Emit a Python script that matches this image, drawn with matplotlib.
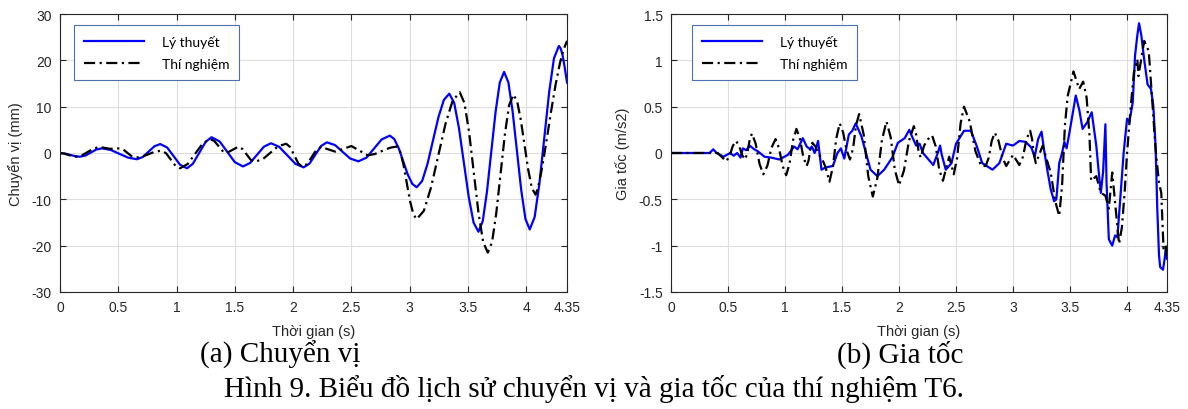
import matplotlib
matplotlib.use("Agg")
import matplotlib.pyplot as plt
from matplotlib.ticker import FormatStrFormatter

# ---- chuyen vi (mm) ----
t_disp_lt = [0.00, 0.04, 0.085, 0.13, 0.17, 0.22, 0.265, 0.31, 0.36, 0.435, 0.51, 0.585, 0.66, 0.71, 0.76,
             0.81, 0.86, 0.92, 0.975, 1.03, 1.09, 1.14, 1.195, 1.25, 1.30, 1.37, 1.435, 1.50, 1.57, 1.63,
             1.69, 1.75, 1.81, 1.88, 1.95, 2.02, 2.09, 2.14, 2.19, 2.24, 2.29, 2.36, 2.425, 2.49, 2.56,
             2.63, 2.695, 2.76, 2.83, 2.868, 2.907, 2.945, 2.983, 3.022, 3.06, 3.107, 3.153, 3.20, 3.247,
             3.293, 3.34, 3.382, 3.423, 3.465, 3.507, 3.548, 3.59, 3.627, 3.663, 3.70, 3.737, 3.773, 3.81,
             3.847, 3.883, 3.92, 3.957, 3.993, 4.03, 4.072, 4.113, 4.155, 4.197, 4.238, 4.28, 4.295, 4.31,
             4.33, 4.35]
disp_lt = [0.0, -0.12, -0.40, -0.68, -0.80, -0.54, 0.10, 0.74, 1.00, 0.66, -0.18, -1.01, -1.35, -0.87, 0.29,
           1.45, 1.93, 1.17, -0.69, -2.54, -3.30, -2.32, 0.05, 2.42, 3.40, 2.48, 0.25, -1.98, -2.90, -2.17,
           -0.40, 1.37, 2.10, 1.34, -0.50, -2.34, -3.10, -2.31, -0.40, 1.51, 2.30, 1.70, 0.25, -1.20, -1.80,
           -0.99, 0.98, 2.94, 3.75, 3.00, 0.96, -1.83, -4.61, -6.65, -7.40, -6.05, -2.35, 2.70, 7.75,
           11.45, 12.80, 10.80, 5.35, -2.10, -9.55, -15.00, -17.00, -14.69, -8.37, 0.25, 8.88, 15.19, 17.50,
           15.22, 9.00, 0.50, -8.00, -14.22, -16.50, -13.85, -6.60, 3.30, 13.20, 20.45, 23.10, 22.60, 21.30,
           18.50, 15.20]

t_disp_tn = [0.00, 0.035, 0.07, 0.105, 0.14, 0.19, 0.24, 0.29, 0.34, 0.385, 0.43, 0.47, 0.51, 0.545, 0.58,
             0.615, 0.65, 0.705, 0.76, 0.815, 0.87, 0.91, 0.95, 0.99, 1.03, 1.095, 1.16, 1.225, 1.29, 1.325,
             1.36, 1.395, 1.43, 1.48, 1.53, 1.565, 1.60, 1.635, 1.67, 1.74, 1.805, 1.87, 1.94, 1.975, 2.01,
             2.045, 2.08, 2.12, 2.16, 2.20, 2.24, 2.30, 2.36, 2.43, 2.50, 2.57, 2.64, 2.70, 2.765, 2.83,
             2.89, 2.918, 2.947, 2.975, 3.003, 3.032, 3.06, 3.122, 3.183, 3.245, 3.307, 3.368, 3.43, 3.47,
             3.51, 3.55, 3.59, 3.63, 3.67, 3.707, 3.743, 3.78, 3.817, 3.853, 3.89, 3.922, 3.953, 3.985,
             4.017, 4.048, 4.08, 4.10, 4.13, 4.17, 4.21, 4.25, 4.29, 4.32, 4.35]
disp_tn = [0.0, -0.12, -0.40, -0.68, -0.80, -0.49, 0.25, 0.99, 1.30, 1.10, 0.90, 0.95, 1.00, 0.71, 0.00,
           -0.71, -1.00, -0.78, -0.25, 0.28, 0.50, -0.05, -1.40, -2.75, -3.30, -2.38, -0.15, 2.08, 3.00, 2.56,
           1.50, 0.44, 0.00, 0.68, 1.35, 0.88, -0.28, -1.43, -1.90, -1.33, 0.05, 1.43, 2.00, 1.27, -0.50,
           -2.27, -3.00, -2.37, -0.85, 0.67, 1.30, 0.80, 0.30, 0.90, 1.50, 0.50, -0.50, -0.22, 0.45, 1.12,
           1.40, 0.35, -2.53, -6.45, -10.38, -13.25, -14.30, -12.46, -7.45, -0.60, 6.25, 11.26, 13.10, 10.78,
           4.45, -4.20, -12.85, -19.18, -21.50, -19.22, -12.97, -4.45, 4.08, 10.32, 12.60, 11.15, 7.20, 1.80,
           -3.60, -7.55, -9.00, -7.60, -4.00, 2.00, 8.50, 14.50, 19.50, 22.30, 24.20]

# ---- gia toc (m/s2) ----
t_acc_lt = [0.00, 0.34, 0.37, 0.40, 0.46, 0.52, 0.55, 0.58, 0.61, 0.63, 0.66, 0.69, 0.73, 0.76, 0.82,
            0.88, 0.95, 1.025, 1.08, 1.11, 1.156, 1.19, 1.22, 1.235, 1.26, 1.29, 1.32, 1.35, 1.38, 1.42,
            1.46, 1.49, 1.52, 1.56, 1.59, 1.62, 1.67, 1.71, 1.75, 1.81, 1.87, 1.94, 1.99, 2.05, 2.09,
            2.11, 2.15, 2.18, 2.21, 2.30, 2.34, 2.36, 2.375, 2.41, 2.46, 2.50, 2.545, 2.57, 2.63, 2.68,
            2.73, 2.82, 2.88, 2.94, 3.00, 3.055, 3.11, 3.16, 3.19, 3.22, 3.25, 3.27, 3.30, 3.33, 3.36,
            3.38, 3.405, 3.43, 3.45, 3.47, 3.51, 3.55, 3.58, 3.61, 3.65, 3.69, 3.73, 3.755, 3.77, 3.79,
            3.81, 3.82, 3.84, 3.87, 3.895, 3.915, 3.94, 3.97, 4.00, 4.02, 4.05, 4.07, 4.09, 4.105, 4.125,
            4.15, 4.18, 4.21, 4.23, 4.25, 4.265, 4.28, 4.29, 4.315, 4.33, 4.34, 4.35]
acc_lt = [0.0, 0.0, 0.04, 0.0, -0.04, 0.0, -0.03, 0.0, -0.05, 0.05, 0.03, 0.08, 0.04, 0.02, -0.04,
          -0.05, -0.07, -0.02, 0.07, 0.04, 0.16, 0.07, 0.04, 0.07, 0.0, 0.13, -0.18, -0.16, -0.15, -0.14,
          0.0, 0.05, -0.06, 0.20, 0.24, 0.32, 0.18, 0.0, -0.18, -0.25, -0.18, -0.05, 0.11, 0.16, 0.25,
          0.19, 0.08, 0.10, 0.0, -0.13, 0.0, 0.08, -0.02, -0.18, -0.11, 0.10, 0.19, 0.24, 0.24, 0.08,
          -0.11, -0.18, -0.11, 0.10, 0.08, 0.13, 0.12, 0.06, -0.04, 0.15, 0.23, 0.05, -0.18, -0.39, -0.52,
          -0.50, -0.11, 0.0, 0.12, 0.05, 0.33, 0.62, 0.47, 0.26, 0.33, 0.44, 0.08, -0.25, -0.43, -0.20,
          0.31, -0.32, -0.93, -1.00, -0.89, -0.91, -0.50, 0.0, 0.37, 0.33, 0.55, 1.05, 1.27, 1.40, 1.27,
          1.01, 0.74, 0.69, 0.51, 0.08, -0.60, -1.10, -1.23, -1.26, -1.14, -1.02, -1.14]

t_acc_tn = [0.00, 0.35, 0.41, 0.485, 0.513, 0.542, 0.57, 0.597, 0.623, 0.65, 0.67, 0.69, 0.71, 0.743, 0.777,
            0.81, 0.846, 0.881, 0.917, 0.948, 0.979, 1.01, 1.04, 1.07, 1.10, 1.13, 1.16, 1.19, 1.207, 1.223,
            1.24, 1.267, 1.293, 1.32, 1.355, 1.39, 1.42, 1.45, 1.48, 1.51, 1.54, 1.57, 1.597, 1.623, 1.65,
            1.69, 1.73, 1.77, 1.81, 1.85, 1.89, 1.927, 1.963, 2.00, 2.043, 2.087, 2.13, 2.15, 2.17, 2.19,
            2.22, 2.255, 2.29, 2.322, 2.353, 2.385, 2.44, 2.48, 2.51, 2.54, 2.57, 2.62, 2.67, 2.72, 2.76,
            2.787, 2.813, 2.84, 2.873, 2.907, 2.94, 3.00, 3.055, 3.087, 3.118, 3.15, 3.167, 3.183, 3.20, 3.26,
            3.29, 3.33, 3.37, 3.405, 3.43, 3.455, 3.48, 3.53, 3.58, 3.615, 3.645, 3.67, 3.685, 3.73, 3.77,
            3.81, 3.84, 3.87, 3.90, 3.93, 3.955, 3.98, 4.00, 4.03, 4.06, 4.09, 4.10, 4.15, 4.19, 4.22,
            4.25, 4.28, 4.30, 4.32, 4.34, 4.35]
acc_tn = [0.00, 0.00, 0.00, -0.09, -0.035, 0.075, 0.13, 0.08, -0.02, -0.07, 0.00, 0.14, 0.21, 0.10, -0.12,
          -0.23, -0.135, 0.055, 0.15, 0.05, -0.14, -0.24, -0.115, 0.135, 0.26, 0.16, -0.04, -0.14, -0.08, 0.05,
          0.11, 0.07, -0.01, -0.05, -0.15, -0.31, -0.15, 0.16, 0.32, 0.22, 0.03, -0.07, 0.05, 0.30, 0.42,
          0.20, -0.25, -0.47, -0.27, 0.14, 0.34, 0.17, -0.18, -0.35, -0.19, 0.13, 0.29, 0.20, 0.03, -0.05,
          0.08, 0.15, 0.19, 0.07, -0.18, -0.30, -0.04, -0.23, -0.05, 0.32, 0.50, 0.34, 0.02, -0.14, -0.14,
          -0.05, 0.13, 0.22, 0.13, -0.05, -0.14, -0.02, -0.13, -0.04, 0.15, 0.24, 0.15, -0.02, -0.11, 0.08,
          -0.05, -0.21, -0.52, -0.68, -0.35, 0.30, 0.62, 0.88, 0.69, 0.77, 0.60, 0.20, -0.30, -0.25, -0.43,
          -0.46, -0.60, -0.21, -0.60, -0.98, -0.80, -0.40, 0.00, 0.47, 0.87, 1.01, 0.83, 1.21, 1.10, 0.58,
          0.04, -0.32, -0.43, -1.04, -1.00, -1.14]

xticks = [0, 0.5, 1, 1.5, 2, 2.5, 3, 3.5, 4, 4.35]
xticklabels = ['0', '0.5', '1', '1.5', '2', '2.5', '3', '3.5', '4', '4.35']
disp_yticks = [-30, -20, -10, 0, 10, 20, 30]
acc_yticks = [-1.5, -1, -0.5, 0, 0.5, 1, 1.5]
series_names = ['Lý thuyết', 'Thí nghiệm']

plt.rcParams['font.family'] = ['Liberation Sans', 'DejaVu Sans']
plt.rcParams['axes.unicode_minus'] = False

fig = plt.figure(figsize=(11.88, 4.10), dpi=100)
ax1 = fig.add_axes([0.0505, 0.2854, 0.4268, 0.678])
ax2 = fig.add_axes([0.5648, 0.2854, 0.4175, 0.678])

dash = (0, (5, 2, 1, 2))


def style(ax, ylim, yticks, ylabel, fmt):
    ax.set_xlim(0, 4.35)
    ax.set_ylim(*ylim)
    ax.set_xticks(xticks)
    ax.set_xticklabels(xticklabels)
    ax.set_yticks(yticks)
    ax.yaxis.set_major_formatter(FormatStrFormatter(fmt))
    ax.grid(True, color='#dedede', linewidth=0.8)
    ax.set_axisbelow(True)
    ax.tick_params(direction='in', top=True, right=True, length=4, width=0.8,
                   labelsize=10, colors='#262626', pad=6)
    for s in ax.spines.values():
        s.set_color('#262626')
        s.set_linewidth(0.8)
    ax.set_xlabel('Thời gian (s)', fontsize=10.5, color='#262626', labelpad=7)
    ax.set_ylabel(ylabel, fontsize=10.5, color='#262626', labelpad=6)


ax1.plot(t_disp_lt, disp_lt, color='#0000ff', lw=1.6, label=series_names[0])
ax1.plot(t_disp_tn, disp_tn, color='black', lw=1.6, linestyle=dash, label=series_names[1])
style(ax1, (-30, 30), disp_yticks, 'Chuyển vị (mm)', '%g')

ax2.plot(t_acc_lt, acc_lt, color='#0000ff', lw=1.6, label=series_names[0])
ax2.plot(t_acc_tn, acc_tn, color='black', lw=1.6, linestyle=dash, label=series_names[1])
style(ax2, (-1.5, 1.5), acc_yticks, 'Gia tốc (m/s2)', '%g')

for ax, x0 in [(ax1, 0.028), (ax2, 0.043)]:
    leg = ax.legend(loc='upper left', bbox_to_anchor=(x0, 0.96), borderaxespad=0,
                    fancybox=False, framealpha=1, edgecolor='#4a6fb5',
                    prop={'family': ['Lato', 'DejaVu Sans'], 'size': 10},
                    handlelength=4.3, handletextpad=1.3, labelspacing=0.75,
                    borderpad=0.7)
    leg.get_frame().set_linewidth(0.8)

serif = ['Liberation Serif', 'DejaVu Serif']
fig.text(0.236, 0.135, '(a) Chuyển vị', ha='center', va='center', family=serif, fontsize=21)
fig.text(0.7576, 0.135, '(b) Gia tốc', ha='center', va='center', family=serif, fontsize=21)
fig.text(0.5, 0.05, 'Hình 9. Biểu đồ lịch sử chuyển vị và gia tốc của thí nghiệm T6.',
         ha='center', va='center', family=serif, fontsize=21)

fig.savefig('out.png', dpi=100)
